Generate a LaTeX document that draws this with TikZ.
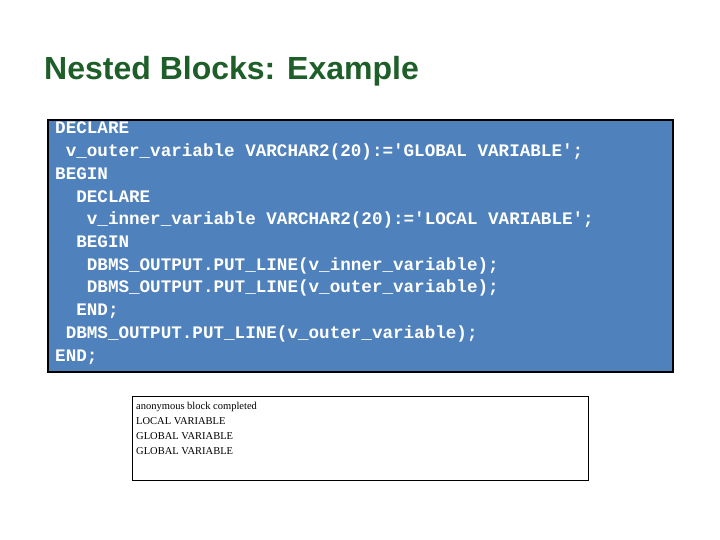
\documentclass[tikz,border=0pt]{standalone}
\usepackage{fontspec}
\setmainfont{Liberation Sans}
\newfontfamily\codefont{Liberation Mono}
\newfontfamily\outfont{Liberation Serif}
\definecolor{titlegreen}{HTML}{1E5E28}
\definecolor{codeblue}{HTML}{4F81BD}
\tikzset{codeline/.style={anchor=base west,inner sep=0pt,text=white,font=\codefont\bfseries\fontsize{17.6}{18}\selectfont},
outline/.style={anchor=base west,inner sep=0pt,font=\outfont\fontsize{10.5}{11}\selectfont}}
\begin{document}
\begin{tikzpicture}[x=1pt,y=-1pt]
\useasboundingbox[fill=white] (0,0) rectangle (720,540);
\node[anchor=base west,inner sep=0pt,text=titlegreen,font=\bfseries\fontsize{32}{34}\selectfont] (title) at (44,80) {Nested Blocks: Example};
\draw[fill=codeblue,draw=black,line width=2pt] (48,120) rectangle (673,372);
\foreach \t [count=\i from 0] in {
DECLARE,
{\ v\_outer\_variable VARCHAR2(20):='GLOBAL VARIABLE';},
BEGIN,
{\ \ DECLARE},
{\ \ \ v\_inner\_variable VARCHAR2(20):='LOCAL VARIABLE';},
{\ \ BEGIN},
{\ \ \ DBMS\_OUTPUT.PUT\_LINE(v\_inner\_variable);},
{\ \ \ DBMS\_OUTPUT.PUT\_LINE(v\_outer\_variable);},
{\ \ END;},
{\ DBMS\_OUTPUT.PUT\_LINE(v\_outer\_variable);},
END;}
  \node[codeline] (c\i) at (55,134+22.7*\i) {\obeyspaces\t};
\draw[black,line width=0.8pt] (132,396) rectangle (588,480);
\foreach \t [count=\i from 0] in {anonymous block completed,LOCAL VARIABLE,GLOBAL VARIABLE,GLOBAL VARIABLE}
  \node[outline] (o\i) at (136,409+15.3*\i) {\t};
\end{tikzpicture}
\end{document}
